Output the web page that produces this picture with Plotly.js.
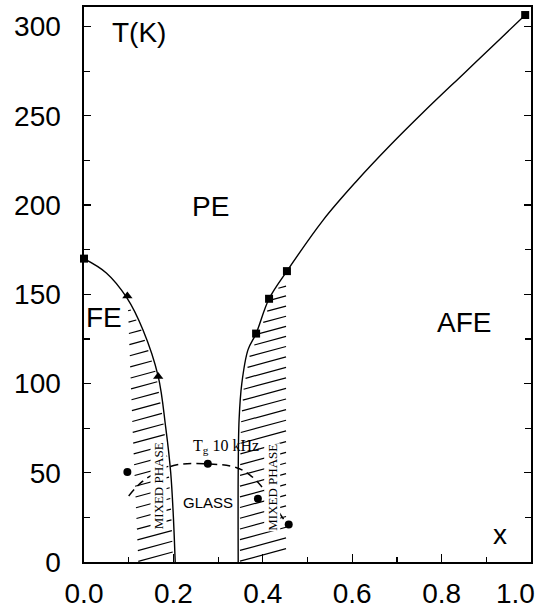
<!DOCTYPE html>
<html><head><meta charset="utf-8">
<script src="https://cdn.plot.ly/plotly-3.0.1.min.js"></script>
<style>html,body{margin:0;padding:0;background:#fff}#chart{width:540px;height:610px}</style>
</head><body><div id="chart"></div>
<script>
// FE / PE phase boundary
const feX = [0, 0.05, 0.096, 0.132, 0.166, 0.183, 0.194, 0.200, 0.204];
const feY = [170, 162, 148, 130, 104, 75, 50, 25, 0];
// AFE / PE phase boundary
const afeX = [0.345, 0.345, 0.347, 0.353, 0.367, 0.385, 0.414, 0.454, 0.535, 0.61, 0.685, 0.759, 0.85, 0.935, 0.987];
const afeY = [0, 50, 80, 100, 119, 128, 147.5, 163, 191.6, 213.5, 233.5, 252, 273.8, 294.1, 306.5];
// measured points
const squareX = [0, 0.385, 0.414, 0.454, 0.987];
const squareY = [170, 128, 147.5, 163, 306.5];
const triangleX = [0.097, 0.166];
const triangleY = [149, 104];
const circleX = [0.097, 0.277, 0.389, 0.458];
const circleY = [50.5, 55, 35.5, 21];
// glass transition T_g (10 kHz), dashed
const glassX = [0.100, 0.130, 0.170, 0.208, 0.277, 0.340, 0.370, 0.400, 0.430, 0.455];
const glassY = [37, 45, 51, 54.5, 55, 53, 49, 41.5, 30, 21];
// outer edges of the mixed-phase regions
const leftMixEdgeX = [0.094, 0.105, 0.118];
const leftMixEdgeY = [145, 75, 0];
const rightMixEdgeX = [0.457, 0.457];
const rightMixEdgeY = [160, 0];
// axis ticks
const xTickVals = [0, 0.2, 0.4, 0.6, 0.8, 1.0];
const xTickText = ['0.0', '0.2', '0.4', '0.6', '0.8', '1.0\u00a0\u00a0\u00a0\u00a0'];
const yTickVals = [0, 50, 100, 150, 200, 250, 300];

function xAt(xs, ys, y) {
  for (let i = 0; i < ys.length - 1; i++) {
    const a = ys[i], b = ys[i + 1];
    if ((y - a) * (y - b) <= 0 && a !== b) {
      return xs[i] + (xs[i + 1] - xs[i]) * (y - a) / (b - a);
    }
  }
  return ys[0] > ys[ys.length - 1] ? (y > ys[0] ? xs[0] : xs[xs.length - 1]) : (y < ys[0] ? xs[0] : xs[xs.length - 1]);
}
const pxPerX = 447, pxPerY = 555 / 311, slope = 0.27;
function hatch(lx, ly, rx, ry, yBot, yTop, step) {
  const xs = [], ys = [];
  for (let y = yBot; y <= yTop; y += step) {
    const a = xAt(lx, ly, y) + 0.004, b = xAt(rx, ry, y) - 0.005;
    if (b <= a) continue;
    const h = slope * (b - a) * pxPerX / pxPerY;
    xs.push(a, b, null); ys.push(y - h / 2, y + h / 2, null);
  }
  return {xs, ys};
}
const hL = hatch(leftMixEdgeX, leftMixEdgeY, feX, feY, 3, 143, 6);
const hR = hatch(afeX, afeY, rightMixEdgeX, rightMixEdgeY, 4, 155, 6);

const lineStyle = {color: '#000', width: 1.4};
const traces = [
  {x: hL.xs, y: hL.ys, mode: 'lines', line: {color: '#000', width: 1.2}, connectgaps: false, hoverinfo: 'skip'},
  {x: hR.xs, y: hR.ys, mode: 'lines', line: {color: '#000', width: 1.2}, connectgaps: false, hoverinfo: 'skip'},
  {x: feX, y: feY, mode: 'lines', line: Object.assign({shape: 'spline'}, lineStyle)},
  {x: afeX, y: afeY, mode: 'lines', line: Object.assign({shape: 'spline'}, lineStyle)},
  {x: glassX, y: glassY, mode: 'lines', line: {color: '#000', width: 1.5, dash: '8px,5px', shape: 'spline'}},
  {x: squareX, y: squareY, mode: 'markers', marker: {symbol: 'square', size: 8, color: '#000'}, cliponaxis: false},
  {x: triangleX, y: triangleY, mode: 'markers', marker: {symbol: 'triangle-up', size: 9, color: '#000'}},
  {x: circleX, y: circleY, mode: 'markers', marker: {symbol: 'circle', size: 8, color: '#000'}}
];

const big = {family: 'Liberation Sans, Arial, sans-serif', size: 28, color: '#000'};
const serif = {family: 'Liberation Serif, Times New Roman, serif', size: 13, color: '#000'};
const layout = {
  width: 540, height: 610,
  margin: {l: 84, r: 9, t: 7, b: 48},
  paper_bgcolor: '#fff', plot_bgcolor: '#fff',
  showlegend: false,
  xaxis: {
    range: [0, 1.0], tickmode: 'array', tickvals: xTickVals, ticktext: xTickText,
    ticks: 'inside', ticklen: 8, tickwidth: 1.2, tickcolor: '#000',
    minor: {dtick: 0.1, tick0: 0, ticks: 'inside', ticklen: 5, tickwidth: 1.2, tickcolor: '#000'},
    showline: true, linecolor: '#000', linewidth: 1.6, mirror: true,
    showgrid: false, zeroline: false, tickfont: big, ticklabelstandoff: 6,
    ticklabeloverflow: 'allow'
  },
  yaxis: {
    range: [0, 311], tickvals: yTickVals,
    ticks: 'inside', ticklen: 7, tickwidth: 1.2, tickcolor: '#000',
    minor: {dtick: 25, tick0: 0, ticks: 'inside', ticklen: 6, tickwidth: 1.2, tickcolor: '#000'},
    showline: true, linecolor: '#000', linewidth: 1.6, mirror: 'ticks',
    showgrid: false, zeroline: false, tickfont: big, ticklabelstandoff: 16
  },
  annotations: [
    {x: 0.123, y: 296.5, text: 'T(K)', showarrow: false, font: big},
    {x: 0.282, y: 199, text: 'PE', showarrow: false, font: big},
    {x: 0.045, y: 137, text: 'FE', showarrow: false, font: big},
    {x: 0.85, y: 134, text: 'AFE', showarrow: false, font: big},
    {x: 0.93, y: 15.5, text: 'x', showarrow: false, font: big},
    {x: 0.166, y: 42.5, text: 'MIXED PHASE', textangle: -90, showarrow: false, font: serif, bgcolor: '#fff', borderpad: 0},
    {x: 0.420, y: 42, text: 'MIXED PHASE', textangle: -90, showarrow: false, font: serif, bgcolor: '#fff', borderpad: 0},
    {x: 0.277, y: 33.5, text: 'GLASS', showarrow: false, font: {family: 'Liberation Sans, Arial, sans-serif', size: 15, color: '#000'}},
    {x: 0.318, y: 64.5, text: 'T<sub>g</sub> 10 kHz', showarrow: false, font: {family: 'Liberation Serif, Times New Roman, serif', size: 16, color: '#000'}}
  ]
};
Plotly.newPlot('chart', traces, layout, {staticPlot: true, displayModeBar: false});
</script>
</body></html>
